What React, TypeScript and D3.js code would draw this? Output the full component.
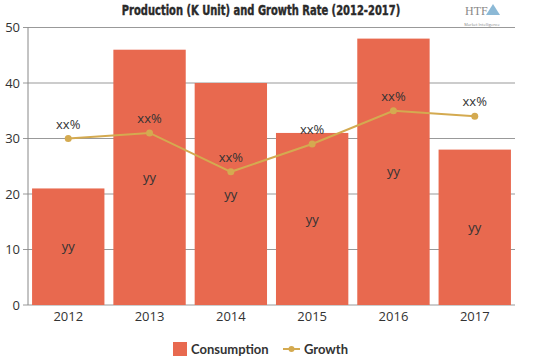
import React from "react";
import * as d3 from "d3";

const years = ["2012", "2013", "2014", "2015", "2016", "2017"];
const consumption = [21, 46, 40, 31, 48, 28];
const growth = [30, 31, 24, 29, 35, 34];
const barLabels = ["yy", "yy", "yy", "yy", "yy", "yy"];
const lineLabels = ["xx%", "xx%", "xx%", "xx%", "xx%", "xx%"];
const yTicks = [0, 10, 20, 30, 40, 50];

const W = 539, H = 359;
const left = 28, right = 515, top = 27.5, bottom = 305;
const barColor = "#e8694f";
const lineColor = "#d4aa50";

export default function App() {
  const x = d3.scaleBand<string>().domain(years).range([left, right]).paddingInner(0.11).paddingOuter(0.05);
  const y = d3.scaleLinear().domain([0, 50]).range([bottom, top]);
  const line = d3.line<number>().x((_, i) => x(years[i])! + x.bandwidth() / 2).y((d) => y(d));
  return (
    <svg width={W} height={H} style={{ position: "absolute", left: 0, top: 0, fontFamily: "'Open Sans', sans-serif" }}>
      <rect width={W} height={H} fill="#fff" />
      {yTicks.map((t) => (
        <g key={t}>
          <line x1={left - 5} x2={right} y1={y(t)} y2={y(t)} stroke="#999" strokeWidth={1} />
          <text x={left - 8} y={y(t)} dy="0.35em" textAnchor="end" fontSize={13} fill="#333">{t}</text>
        </g>
      ))}
      <line x1={left} x2={left} y1={top} y2={bottom} stroke="#888" />
      {years.map((yr, i) => (
        <g key={yr}>
          <rect x={x(yr)} y={y(consumption[i])} width={x.bandwidth()} height={bottom - y(consumption[i])} fill={barColor} />
          <text x={x(yr)! + x.bandwidth() / 2} y={(y(consumption[i]) + bottom) / 2} dy="0.35em" textAnchor="middle" fontSize={13} fill="#333">{barLabels[i]}</text>
          <text x={x(yr)! + x.bandwidth() / 2} y={bottom + 16} textAnchor="middle" fontSize={13} fill="#333">{yr}</text>
        </g>
      ))}
      <path d={line(growth) || ""} fill="none" stroke={lineColor} strokeWidth={2} />
      {growth.map((g, i) => (
        <g key={i}>
          <circle cx={x(years[i])! + x.bandwidth() / 2} cy={y(g)} r={3.5} fill={lineColor} />
          <text x={x(years[i])! + x.bandwidth() / 2} y={y(g) - 10} textAnchor="middle" fontSize={13} fill="#333">{lineLabels[i]}</text>
        </g>
      ))}
      <text transform="translate(261,15) scale(0.79,1)" textAnchor="middle" fontSize={14} fontWeight={900} fontFamily="'DejaVu Sans Condensed', 'DejaVu Sans', sans-serif" fill="#2a2a2a" stroke="#2a2a2a" strokeWidth={0.4}>Production (K Unit) and Growth Rate (2012-2017)</text>
      <g>
        <text x={465} y={15} fontSize={12} fill="#888" fontFamily="'Liberation Serif', serif">HTF</text>
        <path d="M486,15 L493,4 L500,15 Z" fill="#6fa8cc" opacity={0.8} />
        <text x={482} y={25.5} fontSize={4} textAnchor="middle" fill="#888">Market Intelligence</text>
      </g>
      <rect x={173} y={342} width={14} height={14} fill={barColor} />
      <text x={191} y={353.5} fontSize={13} fontWeight="bold" fill="#333" fontFamily="Lato, sans-serif">Consumption</text>
      <line x1={283} x2={300} y1={349} y2={349} stroke={lineColor} strokeWidth={2} />
      <circle cx={291.5} cy={349} r={3} fill={lineColor} />
      <text x={304} y={353.5} fontSize={13} fontWeight="bold" fill="#333" fontFamily="Lato, sans-serif">Growth</text>
    </svg>
  );
}
